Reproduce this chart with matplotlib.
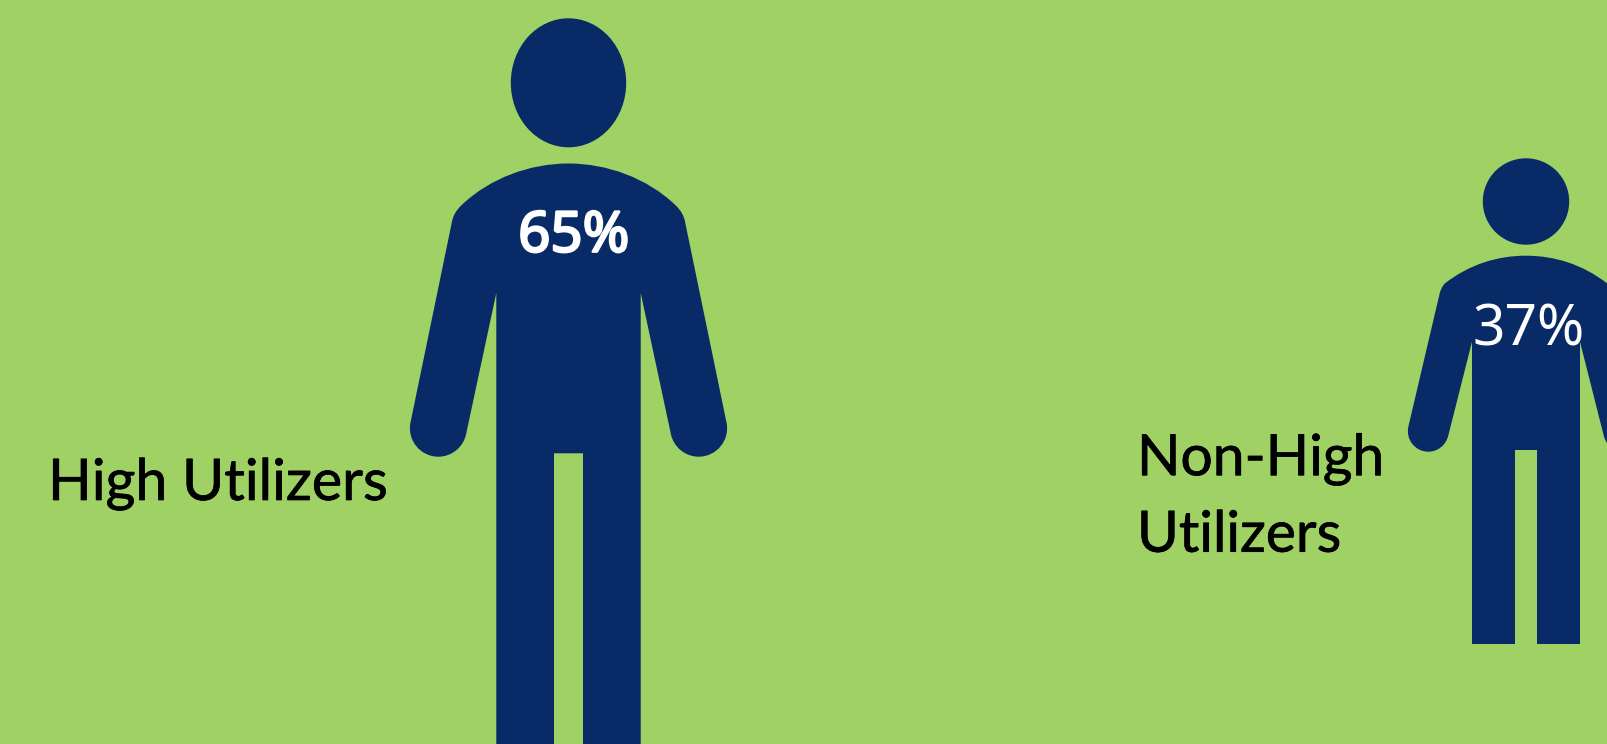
import matplotlib
matplotlib.use("Agg")
import matplotlib.patheffects as pe
import matplotlib.pyplot as plt
from matplotlib.patches import Ellipse, PathPatch
from matplotlib.path import Path

ARQ_FIG = "out.png"
LARGURA, ALTURA = 1607, 744

VERDE = "#9FD165"
AZUL = "#082A67"

# categories and values shown in the chart
GRUPOS = ["High Utilizers", "Non-High\nUtilizers"]
PERCENTUAIS = [65, 37]

plt.rcParams["font.family"] = ["Lato", "DejaVu Sans"]

M, L, C3, C4 = Path.MOVETO, Path.LINETO, Path.CURVE3, Path.CURVE4


def meia_silhueta(topo, ombro, braco, mao, axila, pe_y, virilha):
    # left half of the figure, from the top of the shoulders down to the crotch
    verts = [topo, ombro[0], ombro[1], ombro[2], ombro[3], ombro[4], braco,
             mao[0], mao[1], mao[2], mao[3], mao[4], mao[5],
             axila, (axila[0], pe_y), (virilha[0], pe_y), virilha]
    codes = [M, C4, C4, C4, C3, C3, L, C4, C4, C4, C4, C4, C4, L, L, L, L]
    return verts, codes


def desenhar_pessoa(ax, cx, cabeca, metade):
    head_cy, head_rx, head_ry = cabeca
    ax.add_patch(Ellipse((cx, head_cy), 2 * head_rx, 2 * head_ry, fc=AZUL, ec="none"))

    verts, codes = metade
    # mirror the left half around the centre line
    espelho = [(2 * cx - x, y) for x, y in verts[::-1]]
    codes_esp = [L] + codes[1:][::-1]
    ax.add_patch(PathPatch(Path(verts + espelho, codes + codes_esp), fc=AZUL, ec="none"))


fig = plt.figure(figsize=(LARGURA / 100, ALTURA / 100), dpi=100, facecolor=VERDE)
ax = fig.add_axes([0, 0, 1, 1])
ax.set_xlim(0, LARGURA)
ax.set_ylim(ALTURA, 0)
ax.axis("off")

grande = meia_silhueta(
    (568.5, 163.5),
    [(530, 163.5), (490, 178), (461.7, 205), (453, 213), (451.7, 223)],
    (410.5, 422.5),
    [(406.8, 440.1), (420.3, 456.7), (438.3, 456.7), (451.7, 456.7), (463.4, 447.2), (466.1, 434.1)],
    (496.3, 293), 750, (554, 453.3),
)
pequena = meia_silhueta(
    (1526, 255.7),
    [(1498, 255.7), (1470, 264), (1445, 283.3), (1440.5, 288), (1439.3, 295)],
    (1408.4, 426.5),
    [(1405.4, 439.3), (1415.1, 451.7), (1428.3, 451.7), (1437.8, 451.7), (1445.9, 445.1), (1448.2, 435.9)],
    (1472, 341.7), 644, (1515, 450),
)

desenhar_pessoa(ax, 568.5, (82.8, 57.7, 64.5), grande)
desenhar_pessoa(ax, 1526, (201.5, 43.2, 43.2), pequena)

# percentages on the chests, the bold one is thickened with a stroke
t = ax.text(573.8, 251.7, f"{PERCENTUAIS[0]}%", color="white", fontsize=40.5,
            family=["Noto Sans", "DejaVu Sans"], ha="center", va="baseline")
t.set_path_effects([pe.withStroke(linewidth=1.7, foreground="white")])
ax.text(1528.3, 345, f"{PERCENTUAIS[1]}%", color="white", fontsize=41,
        family=["Noto Sans", "DejaVu Sans"], ha="center", va="baseline")

# group labels
for txt in [
    ax.text(48, 500, GRUPOS[0], color="black", fontsize=41.3, ha="left", va="baseline"),
    ax.text(1137, 551.7, GRUPOS[1], color="black", fontsize=41, ha="left", va="baseline",
            linespacing=1.61),
]:
    txt.set_path_effects([pe.withStroke(linewidth=0.5, foreground="black")])

fig.savefig(ARQ_FIG, dpi=100, facecolor=VERDE)
plt.close(fig)
